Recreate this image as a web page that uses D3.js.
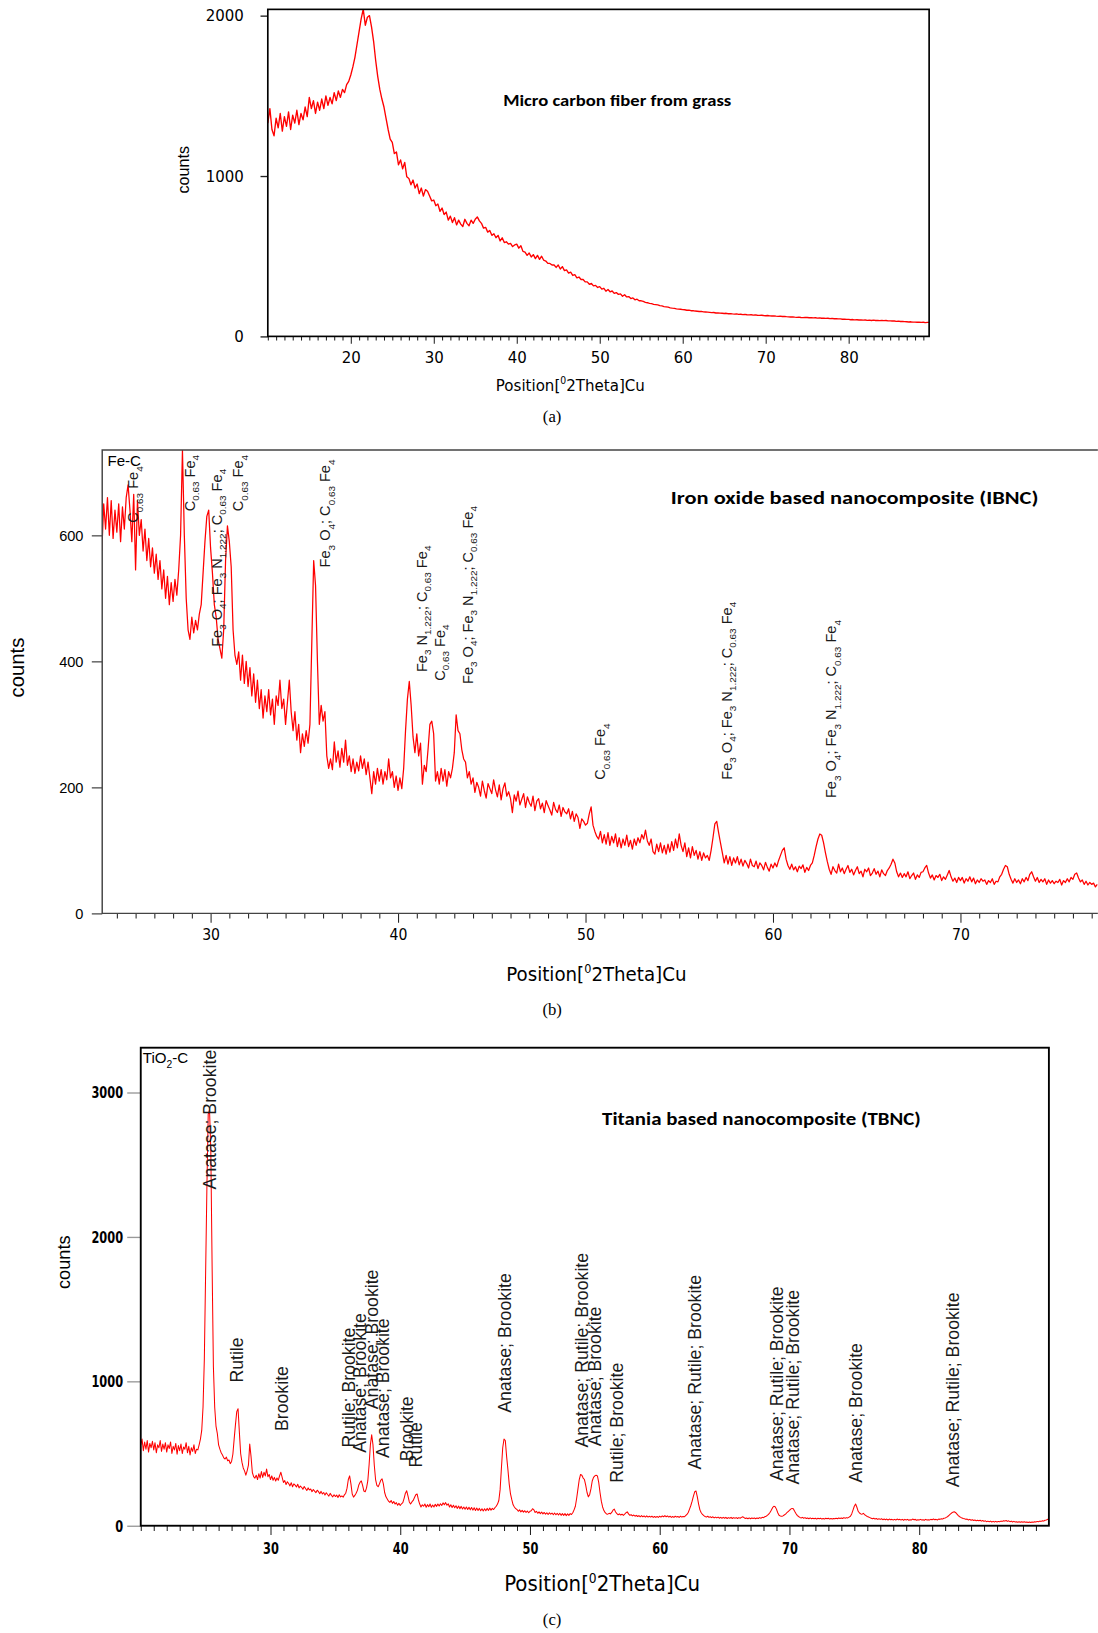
<!DOCTYPE html>
<html>
<head>
<meta charset="utf-8">
<script src="https://cdn.jsdelivr.net/npm/d3@7"></script>
<style>
  body { margin: 0; background: #fff; }
  svg { display: block; }
</style>
</head>
<body>
<svg id="fig" width="1098" height="1633" viewBox="0 0 1054 1568"></svg>
<script>
// ---------------------------------------------------------------
// XRD patterns: counts vs 2-theta (degrees)
// ---------------------------------------------------------------

// (a) micro carbon fiber, 10 .. 89.75 deg every 0.25 deg
const aStart = 10, aStep = 0.25;
const aCounts = [
  1330,1420,1290,1250,1360,1300,1390,1280,1370,1310,1400,1290,1380,1330,1410,1320,1390,1350,1430,1370,
  1490,1420,1470,1390,1460,1410,1480,1420,1500,1440,1490,1450,1520,1470,1530,1490,1540,1520,1570,1590,
  1630,1680,1740,1820,1900,1980,2040,1940,1990,2000,1930,1840,1720,1620,1540,1480,1430,1360,1290,1230,
  1210,1140,1150,1070,1100,1045,1085,995,985,945,975,925,950,890,925,875,915,905,875,845,
  850,815,825,780,800,760,775,725,750,710,740,695,725,700,685,730,705,690,725,705,
  730,745,720,705,675,680,650,660,630,640,615,630,595,615,585,590,575,580,560,570,
  575,550,565,530,525,505,520,495,510,485,505,480,500,475,470,455,455,445,445,430,
  445,420,435,410,415,395,400,380,385,365,370,355,355,340,340,325,330,315,318,305,
  310,295,300,282,292,278,283,268,273,262,265,250,260,246,248,236,240,228,232,222,
  222,218,212,210,206,204,200,198,196,192,190,186,184,182,178,176,175,172,170,169,
  167,166,163,164,160,161,158,157,155,156,153,152,151,150,148,149,146,147,145,144,
  143,144,141,142,140,139,140,137,138,136,137,135,134,135,133,134,132,131,132,130,
  129,130,128,127,128,126,125,126,124,125,123,122,121,122,120,119,120,118,117,118,
  118,116,117,115,116,114,115,113,114,112,113,111,112,110,111,109,109,107,108,106,
  106,104,105,103,104,102,103,101,102,100,101,99,101,99,100,98,100,98,99,97,
  97,96,96,94,95,93,94,92,91,90,91,89,89,88,89,87,88,86,87,87
];

// (b) iron oxide nanocomposite, 24.2 .. 77.3 deg every 0.1 deg
const bStart = 24.2, bStep = 0.1;
const bCounts = [
  575,650,610,660,600,655,595,640,
  605,650,590,645,610,660,680,640,590,665,
  545,655,600,625,575,610,560,595,550,580,
  540,570,530,560,515,545,500,535,490,525,
  495,530,505,545,600,735,600,500,450,435,
  470,445,465,450,475,490,540,590,630,640,
  580,540,490,470,435,420,405,450,560,615,
  590,550,450,410,395,415,370,410,365,400,
  360,390,345,380,335,370,325,355,310,345,
  320,355,315,340,300,345,330,370,325,340,
  300,335,370,320,290,320,275,300,255,285,
  265,290,270,300,430,560,520,400,300,330,
  305,320,250,230,245,228,272,240,258,232,
  262,240,275,235,250,225,245,222,240,226,
  250,230,245,220,240,215,190,225,205,230,
  210,228,205,225,212,245,215,225,200,218,
  195,215,198,230,290,340,368,330,280,255,
  285,250,270,205,235,225,260,300,305,285,
  210,225,205,230,210,228,202,225,215,230,
  255,315,290,285,260,245,240,215,225,205,
  215,192,208,200,186,210,195,183,206,198,
  190,212,196,185,204,180,198,207,186,193,
  182,160,188,178,194,172,181,190,168,185,
  176,170,186,163,178,182,166,175,160,179,
  171,164,156,176,165,160,172,154,168,161,
  158,166,150,162,146,158,152,135,150,146,
  140,143,158,169,140,130,122,118,130,112,
  125,110,128,108,122,112,126,106,120,104,
  118,108,124,106,116,102,118,108,120,112,
  125,118,132,115,108,118,98,94,110,98,
  112,96,108,94,110,97,114,100,118,104,
  126,108,98,112,90,104,88,106,92,100,
  86,98,84,96,88,92,84,100,120,142,
  146,128,112,96,80,92,78,90,76,88,
  80,90,77,86,75,84,79,72,86,76,
  74,83,71,80,76,69,81,73,67,78,
  72,80,74,84,92,100,104,86,76,70,
  78,69,74,66,75,71,77,65,73,68,
  76,80,92,106,118,126,124,112,96,82,
  70,62,74,68,64,78,66,72,63,70,
  76,65,70,61,68,74,63,67,58,70,
  66,72,60,64,71,62,67,58,69,63,
  60,68,72,78,86,80,66,58,64,57,
  63,58,66,55,60,64,54,61,57,65,
  66,72,76,64,56,61,53,60,57,62,
  52,58,54,61,68,58,51,56,49,57,
  52,57,48,55,51,58,50,56,47,53,
  49,55,51,53,46,52,49,55,46,51,
  50,58,62,70,76,74,62,54,48,55,
  49,53,47,55,50,57,52,62,66,58,
  51,57,49,54,50,55,46,53,48,52,
  47,51,49,54,45,52,49,55,50,57,
  54,62,64,56,50,53,46,51,45,49,
  46,48,42,46
];

// (c) titania nanocomposite, 20 .. 90 deg every 0.1 deg
const cStart = 20, cStep = 0.1;
const cCounts = [
  560,600,520,580,530,590,510,570,540,585,
  525,575,505,560,540,590,515,565,530,575,
  510,560,535,580,500,550,525,570,495,555,
  520,565,500,545,530,575,505,550,490,540,
  515,560,500,530,525,560,600,660,820,1150,
  1750,2350,2850,2880,2600,1800,1100,820,690,640,
  560,530,505,490,470,462,475,450,455,430,
  445,495,600,700,790,810,650,500,440,400,
  380,350,380,420,565,480,370,340,330,350,
  320,360,330,375,335,370,345,392,340,355,
  320,345,315,335,310,330,315,345,370,335,
  300,312,285,304,292,276,298,270,290,281,
  268,287,262,275,266,252,271,258,244,262,
  248,254,236,251,240,229,246,236,222,238,
  220,230,212,228,216,205,224,210,200,215,
  202,212,196,214,200,206,198,214,225,260,
  320,345,290,220,198,210,225,245,280,300,
  310,280,240,235,260,310,420,560,630,560,
  420,320,280,270,290,315,325,290,230,200,
  185,170,162,175,155,168,150,160,142,155,
  140,152,160,190,225,242,205,165,150,165,
  175,195,215,220,180,150,130,145,135,150,
  128,146,132,150,128,144,130,148,134,150,
  136,152,140,158,145,160,142,152,130,145,
  126,142,124,138,120,136,118,134,116,130,
  114,130,112,128,110,126,108,124,106,122,
  106,120,104,118,102,118,104,120,106,122,
  108,120,112,125,135,150,175,250,400,540,
  600,590,480,390,290,220,180,145,130,118,
  112,100,110,96,106,94,104,92,102,90,
  100,104,118,110,92,100,86,96,84,94,
  82,92,80,90,78,90,80,88,76,88,
  76,86,74,86,72,84,72,84,70,82,
  72,84,78,90,110,135,190,255,320,355,
  350,330,320,280,230,200,215,255,310,335,
  345,350,345,300,230,170,130,105,90,82,
  80,86,82,92,108,115,95,84,76,82,
  74,80,72,80,90,96,82,72,76,68,
  74,66,72,64,70,62,70,62,68,60,
  68,60,66,60,66,58,64,58,64,58,
  66,60,68,62,70,62,68,60,66,58,
  64,58,66,60,64,58,66,60,64,62,
  70,78,92,115,140,170,205,235,240,200,
  150,110,90,78,70,64,60,66,58,62,
  56,62,54,60,54,60,52,58,52,58,
  52,58,50,56,52,58,50,56,52,56,
  50,56,52,58,62,56,50,54,48,54,
  48,54,50,54,48,54,50,56,52,58,
  56,62,66,72,80,92,108,125,135,132,
  115,90,72,68,66,68,74,80,90,98,
  106,115,120,118,100,85,72,64,58,54,
  58,52,56,50,54,48,54,48,52,48,
  52,46,52,48,52,46,50,46,52,48,
  52,46,50,46,50,48,52,48,54,50,
  54,50,56,52,56,54,60,66,82,108,
  135,150,128,100,88,82,80,86,76,70,
  64,60,56,52,48,52,46,50,44,48,
  44,48,42,46,42,46,40,46,42,44,
  40,44,40,46,42,44,40,44,38,44,
  40,44,38,42,40,46,42,44,38,42,
  40,44,40,42,38,44,40,42,40,44,
  42,46,42,44,40,46,44,48,46,52,
  54,58,64,72,80,88,94,97,92,82,
  72,64,58,54,50,48,44,46,40,44,
  38,42,36,40,34,38,34,38,32,36,
  30,34,28,32,28,32,26,30,26,30,
  26,30,28,32,30,34,32,36,30,34,
  28,32,26,30,26,28,24,28,24,28,
  24,28,24,26,22,26,22,26,24,28,
  26,30,28,32,30,34,32,38,40,44,46
];

// axis ticks
const aXTicks = [20, 30, 40, 50, 60, 70, 80];
const aYTicks = [0, 1000, 2000];
const bXTicks = [30, 40, 50, 60, 70];
const bYTicks = [0, 200, 400, 600];
const cXTicks = [30, 40, 50, 60, 70, 80];
const cYTicks = [0, 1000, 2000, 3000];

// phase labels: text ("_" marks a subscript), 2-theta, counts where label starts
const bLabelText = [
  "C_0.63 Fe_4", "C_0.63 Fe_4", "Fe_3 O_4; Fe_3 N_1.222; C_0.63 Fe_4", "C_0.63 Fe_4",
  "Fe_3 O_4; C_0.63 Fe_4", "Fe_3 N_1.222; C_0.63 Fe_4", "C_0.63 Fe_4",
  "Fe_3 O_4; Fe_3 N_1.222; C_0.63 Fe_4", "C_0.63 Fe_4",
  "Fe_3 O_4; Fe_3 N_1.222; C_0.63 Fe_4", "Fe_3 O_4; Fe_3 N_1.222; C_0.63 Fe_4"
];
const bLabelPos  = [25.87, 28.89, 30.33, 31.47, 36.11, 41.26, 42.22, 43.72, 50.78, 57.53, 63.11];
const bLabelBase = [620, 638, 423, 638, 549, 383, 369, 364, 212, 212, 183];

const cLabelText = [
  "Anatase; Brookite", "Rutile", "Brookite", "Rutile; Brookite", "Anatase; Brookite",
  "Anatase; Brookite", "Anatase; Brookite", "Brookite", "Rutile", "Anatase; Brookite",
  "Anatase; Rutile; Brookite", "Anatase; Brookite", "Rutile; Brookite",
  "Anatase; Rutile; Brookite", "Anatase; Rutile; Brookite", "Anatase; Rutile; Brookite",
  "Anatase; Brookite", "Anatase; Rutile; Brookite"
];
const cLabelPos  = [25.30, 27.38, 30.83, 36.05, 36.90, 37.80, 38.62, 40.50, 41.19, 48.07,
                    54.03, 54.99, 56.68, 62.70, 69.00, 70.24, 75.11, 82.60];
const cLabelBase = [2329, 991, 656, 541, 505, 807, 469, 447, 404, 782,
                    541, 551, 298, 389, 310, 285, 298, 267];

// ---------------------------------------------------------------
const svg = d3.select("#fig");

const FONT_NARROW = "'Liberation Sans Narrow','DejaVu Sans Condensed','Arial Narrow',sans-serif";
const FONT_ARIAL  = "'Liberation Sans',Arial,Helvetica,sans-serif";
const FONT_SERIF  = "'Liberation Serif','Times New Roman',serif";
const FONT_TITLE  = "Carlito,'Open Sans','Liberation Sans',sans-serif";

function series(start, step, counts) {
  return counts.map((c, i) => ({ t: start + i * step, c: c }));
}

// text with "_123" subscripts
function richText(t, str, size) {
  const shift = size * 0.3;
  let low = false;
  str.split(/(_[0-9.]+)/).filter(s => s.length).forEach(part => {
    const sub = part[0] === "_";
    const ts = t.append("tspan").text(sub ? part.slice(1) : part);
    if (sub) { ts.attr("font-size", size * 0.68).attr("dy", shift); low = true; }
    else if (low) { ts.attr("dy", -shift); low = false; }
  });
}

function squeeze(texts, charW) {
  texts.each(function(d) {
    d3.select(this)
      .attr("textLength", String(d).length * charW)
      .attr("lengthAdjust", "spacingAndGlyphs");
  });
}

function drawPanel(p) {
  const g = svg.append("g");
  const x = d3.scaleLinear().domain(p.xDomain).range([p.left, p.right]);
  const y = d3.scaleLinear().domain([0, p.yRef]).range([p.bottom, p.yRefPx]);

  const clipId = "clip-" + p.id;
  g.append("clipPath").attr("id", clipId).append("rect")
    .attr("x", p.left).attr("y", p.top)
    .attr("width", p.right - p.left).attr("height", p.bottom - p.top);

  // pattern
  const line = d3.line().x(d => x(d.t)).y(d => y(d.c));
  g.append("path")
    .datum(p.data)
    .attr("clip-path", "url(#" + clipId + ")")
    .attr("fill", "none")
    .attr("stroke", "#ff0000")
    .attr("stroke-width", p.lineWidth)
    .attr("stroke-linejoin", "round")
    .attr("d", line);

  // x axis: minor ticks every degree, majors with labels
  const minor = d3.range(Math.ceil(p.xDomain[0]), p.xDomain[1]).filter(v => p.xTicks.indexOf(v) < 0);
  const xm = g.append("g")
    .attr("transform", "translate(0," + p.bottom + ")")
    .call(d3.axisBottom(x).tickValues(minor).tickSize(p.minorTick).tickFormat(""));
  xm.select(".domain").remove();
  xm.selectAll("line").attr("stroke", "#222");

  const xa = g.append("g")
    .attr("transform", "translate(0," + p.bottom + ")")
    .call(d3.axisBottom(x).tickValues(p.xTicks).tickSize(p.majorTick)
      .tickPadding(p.xPad).tickFormat(d3.format("d")));
  xa.select(".domain").remove();
  xa.selectAll("line").attr("stroke", "#222");
  xa.selectAll("text")
    .attr("font-family", p.tickFont).attr("font-size", p.xFontSize)
    .attr("font-weight", p.tickWeight).attr("fill", "#000");

  // y axis
  const ya = g.append("g")
    .attr("transform", "translate(" + p.left + ",0)")
    .call(d3.axisLeft(y).tickValues(p.yTicks).tickSize(p.yTick)
      .tickPadding(p.yPad).tickFormat(d3.format("d")));
  ya.select(".domain").remove();
  ya.selectAll("line").attr("stroke", p.yTickColor).attr("stroke-width", 1.3);
  ya.selectAll("text")
    .attr("font-family", p.yFont).attr("font-size", p.yFontSize)
    .attr("font-weight", p.tickWeight).attr("fill", "#000");

  // narrow look of the original tick numbers
  if (p.tickCharW) {
    squeeze(xa.selectAll("text"), p.tickCharW);
    squeeze(ya.selectAll("text"), p.tickCharW);
  }

  // frame
  if (p.box) {
    g.append("rect")
      .attr("x", p.left).attr("y", p.top)
      .attr("width", p.right - p.left).attr("height", p.bottom - p.top)
      .attr("fill", "none").attr("stroke", "#000").attr("stroke-width", p.frameWidth);
  } else {
    g.append("path")
      .attr("d", "M" + p.right + "," + p.top + "H" + p.left + "V" + p.bottom + "H" + p.right)
      .attr("fill", "none").attr("stroke", "#444").attr("stroke-width", p.frameWidth);
  }

  // phase labels, rotated, reading upwards
  if (p.labelText) {
    p.labelText.forEach((str, i) => {
      const t = g.append("text")
        .attr("transform", "translate(" + (x(p.labelPos[i]) + p.labelDx) + "," +
              y(p.labelBase[i]) + ") rotate(-90)")
        .attr("font-family", FONT_ARIAL)
        .attr("font-size", p.labelSize)
        .attr("fill", "#1a1a1a");
      richText(t, str, p.labelSize);
    });
  }
}

function plainText(x, y, str, o) {
  const t = svg.append("text")
    .attr("x", x).attr("y", y)
    .attr("font-family", o.font).attr("font-size", o.size)
    .attr("font-weight", o.weight || "normal")
    .attr("text-anchor", o.anchor || "start")
    .attr("fill", "#000");
  if (o.len) t.attr("textLength", o.len).attr("lengthAdjust", "spacingAndGlyphs");
  if (o.rotate) t.attr("transform", "rotate(-90," + x + "," + y + ")");
  if (o.rich) richText(t, str, o.size); else t.text(str);
  return t;
}

function positionLabel(x, y, size, len) {
  const t = svg.append("text")
    .attr("x", x).attr("y", y)
    .attr("font-family", FONT_NARROW).attr("font-size", size)
    .attr("textLength", len).attr("lengthAdjust", "spacingAndGlyphs")
    .attr("fill", "#000");
  t.append("tspan").text("Position[");
  t.append("tspan").attr("font-size", size * 0.62).attr("dy", -size * 0.4).text("0");
  t.append("tspan").attr("dy", size * 0.4).text("2Theta]Cu");
}

// ---- panel (a)
drawPanel({
  id: "a", data: series(aStart, aStep, aCounts),
  xDomain: [10, 89.7], left: 257, right: 892, top: 9, bottom: 323,
  yRef: 2000, yRefPx: 15,
  xTicks: aXTicks, yTicks: aYTicks,
  minorTick: 4, majorTick: 7, xPad: 7, yTick: 7, yPad: 16,
  tickFont: FONT_NARROW, yFont: FONT_NARROW, xFontSize: 16, yFontSize: 16,
  tickWeight: "normal", yTickColor: "#222",
  box: true, frameWidth: 1.6, lineWidth: 1.3
});
plainText(483, 102, "Micro carbon fiber from grass", { font: FONT_TITLE, size: 15, weight: "bold", len: 219 });
plainText(181, 163, "counts", { font: FONT_ARIAL, size: 15.5, anchor: "middle", rotate: true });
positionLabel(476, 375, 16, 143);
plainText(530, 405, "(a)", { font: FONT_SERIF, size: 16, anchor: "middle" });

// ---- panel (b)
drawPanel({
  id: "b", data: series(bStart, bStep, bCounts),
  xDomain: [24.22, 77.33], left: 98, right: 1054, top: 432, bottom: 877,
  yRef: 600, yRefPx: 514,
  xTicks: bXTicks, yTicks: bYTicks,
  minorTick: 5, majorTick: 9, xPad: 6, yTick: 10, yPad: 8,
  tickFont: FONT_NARROW, yFont: FONT_ARIAL, xFontSize: 15, yFontSize: 14,
  tickWeight: "normal", yTickColor: "#555",
  box: false, frameWidth: 1.4, lineWidth: 1.2,
  labelText: bLabelText, labelPos: bLabelPos, labelBase: bLabelBase,
  labelSize: 14, labelDx: 5
});
plainText(103, 447, "Fe-C", { font: FONT_ARIAL, size: 14.5 });
plainText(644, 484, "Iron oxide based nanocomposite (IBNC)", { font: FONT_TITLE, size: 18, weight: "bold", len: 353 });
plainText(23, 641, "counts", { font: FONT_ARIAL, size: 19.5, anchor: "middle", rotate: true });
positionLabel(486, 942, 19, 173);
plainText(530, 975, "(b)", { font: FONT_SERIF, size: 16, anchor: "middle" });

// ---- panel (c)
drawPanel({
  id: "c", data: series(cStart, cStep, cCounts),
  xDomain: [20, 90], left: 135, right: 1007, top: 1006, bottom: 1465,
  yRef: 3000, yRefPx: 1049,
  xTicks: cXTicks, yTicks: cYTicks,
  minorTick: 5, majorTick: 9, xPad: 7, yTick: 13, yPad: 4,
  tickFont: FONT_NARROW, yFont: FONT_NARROW, xFontSize: 16, yFontSize: 16,
  tickWeight: "bold", yTickColor: "#999", tickCharW: 7.6,
  box: true, frameWidth: 1.8, lineWidth: 1.0,
  labelText: cLabelText, labelPos: cLabelPos, labelBase: cLabelBase,
  labelSize: 17, labelDx: 6
});
plainText(137, 1021, "TiO_2-C", { font: FONT_ARIAL, size: 14.5, rich: true });
plainText(578, 1080, "Titania based nanocomposite (TBNC)", { font: FONT_TITLE, size: 17, weight: "bold", len: 306 });
plainText(67, 1212, "counts", { font: FONT_ARIAL, size: 17.5, anchor: "middle", rotate: true });
positionLabel(484, 1528, 21, 188);
plainText(530, 1560, "(c)", { font: FONT_SERIF, size: 16, anchor: "middle" });
</script>
</body>
</html>
